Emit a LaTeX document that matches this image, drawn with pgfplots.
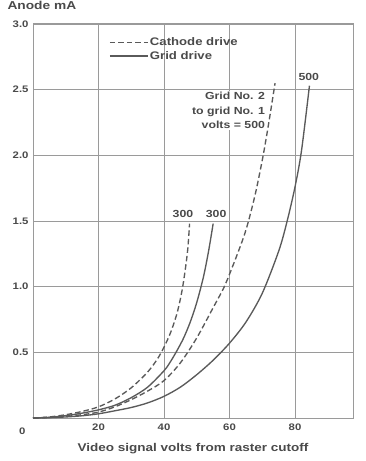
\documentclass[border=0pt]{standalone}
\usepackage{fontspec}
\setmainfont{Liberation Sans}[UprightFont={* Bold}, FakeStretch=1.2]
\usepackage{pgfplots}
\pgfplotsset{compat=1.18}
\definecolor{txt}{HTML}{4A4A4A}
\definecolor{crv}{HTML}{5A5A5A}
\definecolor{grd}{HTML}{9A9A9A}
\begin{document}
\begin{tikzpicture}
\begin{axis}[
  scale only axis, width=320bp, height=394bp,
  clip=false,
  xmin=0, xmax=97.7, ymin=0, ymax=3,
  xtick={20,40,60,80}, ytick={0.5,1,1.5,2,2.5,3},
  yticklabel style={/pgf/number format/fixed,/pgf/number format/fixed zerofill,/pgf/number format/precision=1},
  /pgf/number format/assume math mode=true,
  tick label style={font=\fontsize{9.5}{10}\selectfont, text=txt},
  xticklabel style={yshift=-2bp},
  yticklabel style={xshift=-1bp},
  major tick length=0pt,
  grid=major, major grid style={grd, line width=0.9pt},
  axis line style={grd, line width=1pt},
  legend style={at={(rel axis cs:0.228,0.975)}, anchor=north west, draw=none, fill=none,
    font=\fontsize{11}{12}\selectfont, text=txt, row sep=1.5pt, nodes={inner sep=1.5pt}},
  legend cell align=left,
  legend image code/.code={\draw[#1] (0bp,0bp) -- (38bp,0bp);},
]
\addplot[crv, line width=1.35pt, dash pattern=on 5.5bp off 3bp, smooth] coordinates {
(0,0) (5,0.008) (10,0.025) (15,0.05) (20,0.085) (25,0.145) (30,0.23) (35,0.35) (38,0.45) (40,0.54) (42,0.65) (44,0.8) (45.5,0.97) (46.6,1.15) (47.3,1.3) (47.8,1.48)};
\addlegendentry{Cathode drive}
\addplot[crv, line width=1.35pt, smooth] coordinates {
(0,0) (5,0.005) (10,0.018) (15,0.037) (20,0.062) (25,0.097) (30,0.155) (35,0.235) (40,0.36) (42,0.43) (44,0.515) (46,0.61) (48,0.73) (50,0.88) (52,1.07) (53.6,1.27) (55,1.48)};
\addlegendentry{Grid drive}
\addplot[crv, line width=1.35pt, dash pattern=on 5.5bp off 3bp, smooth, forget plot] coordinates {
(0,0) (5,0.004) (10,0.012) (15,0.025) (20,0.045) (25,0.085) (30,0.14) (35,0.205) (40,0.285) (45,0.42) (50,0.61) (55,0.84) (58.4,1.0) (61.5,1.19) (64.2,1.37) (65.8,1.5) (68,1.72) (70.2,1.99) (72,2.25) (73.9,2.55)};
\addplot[crv, line width=1.35pt, smooth, forget plot] coordinates {
(0,0) (5,0.003) (10,0.008) (15,0.017) (20,0.032) (25,0.055) (30,0.08) (35,0.115) (40,0.165) (45,0.235) (50,0.33) (55,0.44) (60,0.57) (65,0.73) (70,0.95) (75,1.27) (77.5,1.49) (80,1.76) (82,2.04) (84.4,2.53)};
\node[text=txt, font=\fontsize{10.3}{12}\selectfont] at (axis cs:45.8,1.555) {300};
\node[text=txt, font=\fontsize{10.3}{12}\selectfont] at (axis cs:55.9,1.555) {300};
\node[text=txt, font=\fontsize{10.3}{12}\selectfont] at (axis cs:84.2,2.6) {500};
\node[text=txt, font=\fontsize{10.3}{12}\selectfont, anchor=east, align=right, fill=white, inner sep=1pt] at (axis cs:71.2,2.34) {Grid No. 2\\[2.5pt]to grid No. 1\\[2.5pt]volts = 500};
\node[text=txt, font=\fontsize{9.5}{10}\selectfont, anchor=north east] at ([xshift=-4bp,yshift=-6bp]rel axis cs:0,0) {0};
\node[text=txt, font=\fontsize{11.5}{12}\selectfont, anchor=base west] at ([xshift=-29bp,yshift=14bp]rel axis cs:0,1) {Anode mA};
\node[text=txt, font=\fontsize{11.3}{12}\selectfont, anchor=base] at ([yshift=-33bp]rel axis cs:0.5,0) {Video signal volts from raster cutoff};
\coordinate (SW) at (rel axis cs:0,0);
\coordinate (NE) at (rel axis cs:1,1);
\end{axis}
\pgfresetboundingbox
\path[use as bounding box] ([xshift=-33bp,yshift=-43bp]SW) rectangle ([xshift=13bp,yshift=24bp]NE);
\end{tikzpicture}
\end{document}
